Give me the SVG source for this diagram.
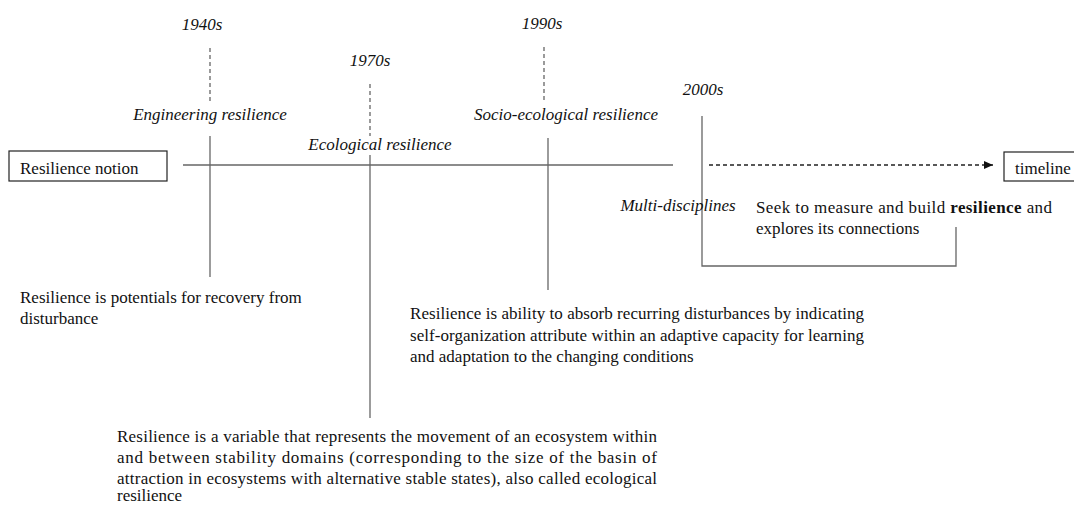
<svg xmlns="http://www.w3.org/2000/svg" width="1074" height="506" viewBox="0 0 1074 506">
<defs>
<style>
text{font-family:"Liberation Serif","Times New Roman",serif;font-size:17px;fill:#111}
.it{font-style:italic}
.ln{stroke:#666;stroke-width:1.3;fill:none}
.ds{stroke:#666;stroke-width:1.3;stroke-dasharray:4,3;fill:none}
.bx{fill:#fff;stroke:#222;stroke-width:1.2}
</style>
<marker id="ah" markerWidth="10" markerHeight="8" refX="9" refY="4" orient="auto" markerUnits="userSpaceOnUse">
<path d="M0,0 L9,4 L0,8 Z" fill="#111"/>
</marker>
</defs>
<rect width="1074" height="506" fill="#fff"/>
<g id="connectors">
<line class="ln" x1="183" y1="165" x2="673" y2="165"/>
<line class="ds" x1="210" y1="48" x2="210" y2="101"/>
<line class="ln" x1="210" y1="136" x2="210" y2="277"/>
<line class="ds" x1="370" y1="84" x2="370" y2="136"/>
<line class="ln" x1="370" y1="155" x2="370" y2="418"/>
<line class="ds" x1="544" y1="47" x2="544" y2="100"/>
<line class="ln" x1="548" y1="138" x2="548" y2="290"/>
<polyline class="ln" points="702,116 702,266 956,266 956,227"/>
<line stroke="#222" stroke-width="1.3" stroke-dasharray="4,3" x1="709" y1="165" x2="993" y2="165" marker-end="url(#ah)"/>
</g>
<g id="notion">
<rect class="bx" x="9" y="151" width="158" height="30"/>
<text x="20" y="174">Resilience notion</text>
</g>
<g id="timeline">
<rect class="bx" x="1004" y="152" width="75" height="29"/>
<text x="1015" y="174">timeline</text>
</g>
<g id="era1940">
<text class="it" x="202" y="30" text-anchor="middle">1940s</text>
<text class="it" x="210" y="120" text-anchor="middle">Engineering resilience</text>
<text x="20" y="303">Resilience is potentials for recovery from</text>
<text x="20" y="324">disturbance</text>
</g>
<g id="era1970">
<text class="it" x="370" y="66" text-anchor="middle">1970s</text>
<text class="it" x="380" y="150" text-anchor="middle">Ecological resilience</text>
<text x="117" y="442" textLength="540" lengthAdjust="spacing">Resilience is a variable that represents the movement of an ecosystem within</text>
<text x="117" y="463" textLength="540" lengthAdjust="spacing">and between stability domains (corresponding to the size of the basin of</text>
<text x="117" y="484" textLength="540" lengthAdjust="spacing">attraction in ecosystems with alternative stable states), also called ecological</text>
<text x="117" y="501">resilience</text>
</g>
<g id="era1990">
<text class="it" x="542" y="29" text-anchor="middle">1990s</text>
<text class="it" x="566" y="120" text-anchor="middle">Socio-ecological resilience</text>
<text x="410" y="319" textLength="454" lengthAdjust="spacing">Resilience is ability to absorb recurring disturbances by indicating</text>
<text x="410" y="341" textLength="454" lengthAdjust="spacing">self-organization attribute within an adaptive capacity for learning</text>
<text x="410" y="362">and adaptation to the changing conditions</text>
</g>
<g id="era2000">
<text class="it" x="703" y="95" text-anchor="middle">2000s</text>
<text class="it" x="678" y="211" text-anchor="middle">Multi-disciplines</text>
<text x="756" y="213" textLength="296" lengthAdjust="spacing">Seek to measure and build <tspan font-weight="bold">resilience</tspan> and</text>
<text x="756" y="234">explores its connections</text>
</g>
</svg>
